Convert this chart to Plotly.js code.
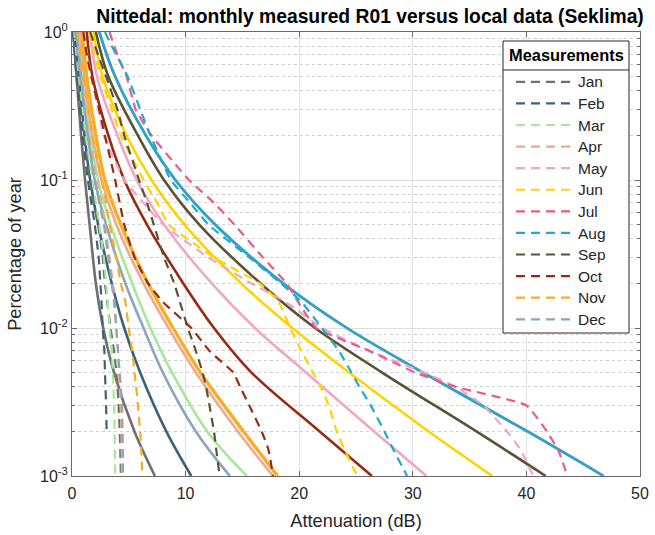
<!DOCTYPE html>
<html>
<head>
<meta charset="utf-8">
<script src="https://cdn.plot.ly/plotly-3.0.1.min.js"></script>
<style>
  html, body { margin: 0; padding: 0; background: #fff; }
  #chart { width: 655px; height: 535px; }
</style>
</head>
<body>
<div id="chart"></div>
<script>
// Month names (legend labels)
const months = ['Jan', 'Feb', 'Mar', 'Apr', 'May', 'Jun', 'Jul', 'Aug', 'Sep', 'Oct', 'Nov', 'Dec'];

// Line colour per month
const monthColors = ['#6f6f6f', '#3d6178', '#a6e89a', '#f2a88a', '#f1a7c3', '#ffd300',
                     '#ea5a8c', '#22a9cc', '#5b5232', '#982a12', '#f5ae25', '#8aa8ba'];

// Percentage of year (y) at which the local (Seklima) curves are sampled
const localPct = [1, 0.5, 0.2, 0.1, 0.05, 0.02, 0.01, 0.005, 0.002, 0.001];

// Local data: attenuation (dB) exceeded for each percentage in localPct
const localJan = [0.1, 0.4, 0.8, 1.15, 1.55, 2.1, 2.75, 3.7, 5.5, 7.3];
const localFeb = [0.2, 0.6, 1.1, 1.6, 2.3, 3.5, 4.6, 6.0, 8.3, 10.5];
const localMar = [0.5, 0.9, 1.6, 2.3, 3.4, 5.3, 6.9, 8.8, 11.9, 15.4];
const localApr = [0.7, 1.1, 1.8, 2.6, 3.9, 6.3, 8.5, 10.9, 14.6, 17.7];
const localMay = [1.6, 2.2, 4.0, 5.7, 8.1, 12.3, 16.1, 20.6, 26.6, 31.2];
const localJun = [1.9, 2.7, 4.8, 7.0, 9.9, 14.9, 19.4, 24.4, 31.4, 37.0];
const localJul = [2.4, 3.8, 6.5, 9.1, 12.6, 18.6, 24.2, 30.9, 40.1, 46.8];
const localAug = [2.4, 3.8, 6.5, 9.1, 12.6, 18.6, 24.2, 30.9, 40.1, 46.8];
const localSep = [2.1, 3.2, 5.8, 8.1, 11.2, 16.6, 21.4, 27.3, 35.6, 41.7];
const localOct = [1.3, 1.8, 3.2, 4.6, 6.6, 9.8, 12.5, 15.8, 21.8, 26.4];
const localNov = [0.9, 1.3, 2.1, 2.9, 4.3, 6.7, 8.9, 11.3, 15.1, 18.1];
const localDec = [0.4, 0.8, 1.4, 2.0, 3.0, 4.7, 6.3, 8.0, 10.9, 13.9];

// Percentage of year at which the measured R01 curves are sampled
const measPct = [1, 0.7, 0.5, 0.3, 0.2, 0.1, 0.07, 0.05, 0.03, 0.02, 0.015, 0.01,
                 0.007, 0.005, 0.004, 0.003, 0.002, 0.0015, 0.001];

// Measured attenuation (dB) for each percentage in measPct
const measJan = [0.1, 0.3, 0.5, 0.8, 1.0, 1.6, 1.9, 2.3, 2.7, 2.9, 3.1, 3.4, 3.7, 3.9, 4.0, 4.1, 4.2, 4.25, 4.3];
const measFeb = [0.1, 0.25, 0.4, 0.7, 0.9, 1.4, 1.7, 2.0, 2.35, 2.5, 2.6, 2.7, 2.85, 2.9, 2.95, 3.0, 3.05, null, null];
const measMar = [0.2, 0.4, 0.6, 0.95, 1.2, 1.8, 2.1, 2.4, 2.8, 3.0, 3.15, 3.3, 3.5, 3.6, 3.65, 3.7, 3.75, 3.78, 3.8];
const measApr = [0.3, 0.55, 0.8, 1.2, 1.5, 2.2, 2.6, 2.9, 3.3, 3.6, 3.75, 3.9, 4.05, 4.1, 4.2, 4.3, 4.35, 4.38, 4.4];
const measMay = [1.0, 1.35, 1.7, 2.3, 2.8, 4.6, 6.3, 8.0, 12.0, 15.8, 18.8, 22.0, 26.2, 31.0, 33.8, 36.2, 38.3, 39.5, 40.6];
const measJun = [1.5, 2.0, 2.5, 3.5, 4.3, 6.3, 7.5, 8.5, 12.5, 16.5, 18.2, 19.2, 20.2, 21.2, 21.9, 22.6, 23.3, 24.0, 25.1];
const measJul = [3.3, 4.0, 4.8, 5.6, 7.0, 10.3, 12.5, 14.3, 16.8, 18.9, 19.9, 21.5, 26.2, 30.2, 33.8, 40.0, 41.8, 42.8, 43.6];
const measAug = [2.9, 3.9, 4.9, 6.0, 6.9, 8.7, 10.4, 12.0, 15.6, 18.4, 20.2, 22.0, 23.5, 24.6, 25.3, 26.3, 27.5, 28.3, 29.5];
const measSep = [1.6, 2.3, 3.0, 4.0, 4.6, 5.9, 6.6, 7.2, 8.1, 9.0, 9.5, 10.2, 10.9, 11.5, 11.8, 12.1, 12.5, 12.7, 13.0];
const measOct = [1.0, 1.3, 1.7, 2.4, 2.9, 3.8, 4.2, 4.6, 5.5, 6.7, 8.0, 10.5, 12.1, 14.2, 14.8, 15.6, 16.7, 17.3, 17.7];
const measNov = [0.5, 0.75, 1.0, 1.45, 1.8, 2.6, 3.0, 3.3, 3.9, 4.3, 4.7, 5.0, 5.3, 5.5, 5.65, 5.8, 6.0, 6.1, 6.2];
const measDec = [0.3, 0.5, 0.7, 1.1, 1.4, 2.0, 2.4, 2.8, 3.2, 3.5, 3.7, 3.9, 4.05, 4.2, 4.3, 4.4, 4.45, 4.48, 4.5];

// y-axis decade ticks
const yTickVals = [0.001, 0.01, 0.1, 1];
const yTickText = ['10<sup>-3</sup>', '10<sup>-2</sup>', '10<sup>-1</sup>', '10<sup>0</sup>'];

const localSeries = [localJan, localFeb, localMar, localApr, localMay, localJun,
                     localJul, localAug, localSep, localOct, localNov, localDec];
const measSeries = [measJan, measFeb, measMar, measApr, measMay, measJun,
                    measJul, measAug, measSep, measOct, measNov, measDec];

// minor grid positions for the log axis (2..9 within each decade)
const minorVals = [];
for (let e = -3; e < 0; e++) {
  for (let m = 2; m <= 9; m++) minorVals.push(m * Math.pow(10, e));
}

const traces = [];

// Local data: solid lines, not shown in the legend
localSeries.forEach((xs, i) => {
  traces.push({
    type: 'scatter', mode: 'lines',
    x: xs, y: localPct,
    name: months[i] + ' (local)',
    showlegend: false,
    hoverinfo: 'skip',
    line: { color: monthColors[i], width: months[i] === 'Nov' ? 3.4 : 2.6, shape: 'spline', smoothing: 1 }
  });
});

// Measurements: dashed lines, listed in the legend
measSeries.forEach((xs, i) => {
  traces.push({
    type: 'scatter', mode: 'lines',
    x: xs, y: measPct,
    name: '<span style="font-size:15.5px">' + months[i] + '</span>',
    connectgaps: false,
    line: { color: monthColors[i], width: 2.2, dash: '9px,6px', shape: 'spline', smoothing: 0.4 }
  });
});

// pixel helpers for legend frame (plot area: x 72..640, y 32..476)
const px2x = p => (p - 72) / 568;
const px2y = p => (476 - p) / 444;

const layout = {
  width: 655, height: 535,
  margin: { l: 72, r: 15, t: 32, b: 59 },
  paper_bgcolor: '#ffffff',
  plot_bgcolor: '#ffffff',
  font: { family: 'Liberation Sans, Arial, sans-serif', color: '#262626', size: 16 },
  title: {
    text: '<b>Nittedal: monthly measured R01 versus local data (Seklima)</b>',
    font: { size: 19.3, color: '#000000' },
    x: 370 / 655, xref: 'container', xanchor: 'center',
    y: 1 - 16 / 535, yref: 'container', yanchor: 'middle'
  },
  xaxis: {
    range: [0, 50], dtick: 10, tick0: 0,
    ticks: 'inside', ticklen: 5, tickcolor: '#6a6a6a',
    showline: true, linecolor: '#6a6a6a', linewidth: 1, mirror: 'ticks',
    showgrid: true, gridcolor: '#e2e2e2', gridwidth: 1, zeroline: false,
    tickfont: { size: 16, color: '#262626' },
    ticklabelstandoff: 3,
    title: { text: 'Attenuation (dB)', font: { size: 18.2, color: '#262626' }, standoff: 13 }
  },
  yaxis: {
    type: 'log', range: [-3, 0],
    tickmode: 'array', tickvals: yTickVals, ticktext: yTickText,
    ticks: 'inside', ticklen: 5, tickcolor: '#6a6a6a',
    showline: true, linecolor: '#6a6a6a', linewidth: 1, mirror: 'ticks',
    showgrid: true, gridcolor: '#dedede', gridwidth: 1, zeroline: false,
    tickfont: { size: 16, color: '#262626' },
    minor: {
      tickmode: 'array', tickvals: minorVals,
      ticks: 'inside', ticklen: 3, tickcolor: '#6a6a6a',
      showgrid: true, gridcolor: '#d2d2d2', griddash: 'dot', gridwidth: 1
    },
    title: { text: 'Percentage of year', font: { size: 18.2, color: '#262626' }, standoff: 13 }
  },
  showlegend: true,
  legend: {
    x: px2x(511), y: px2y(66), xanchor: 'left', yanchor: 'top',
    bgcolor: 'rgba(0,0,0,0)', borderwidth: 0,
    font: { size: 14.3, color: '#262626' },
    itemwidth: 57,
    traceorder: 'normal'
  },
  annotations: [
    // legend heading
    { text: '<b>Measurements</b>', showarrow: false,
      xref: 'paper', yref: 'paper', x: px2x(566), y: px2y(55),
      xanchor: 'center', yanchor: 'middle',
      font: { size: 16.4, color: '#000000' } }
  ],
  shapes: [
    // legend frame and the rule under its heading
    { type: 'rect', xref: 'paper', yref: 'paper', layer: 'above',
      x0: px2x(503), x1: px2x(629), y0: px2y(333), y1: px2y(41),
      fillcolor: '#ffffff', line: { color: '#262626', width: 1 } },
    { type: 'line', xref: 'paper', yref: 'paper', layer: 'above',
      x0: px2x(503), x1: px2x(629), y0: px2y(70), y1: px2y(70),
      line: { color: '#262626', width: 1 } }
  ]
};

Plotly.newPlot('chart', traces, layout, { displayModeBar: false, staticPlot: true });
</script>
</body>
</html>
